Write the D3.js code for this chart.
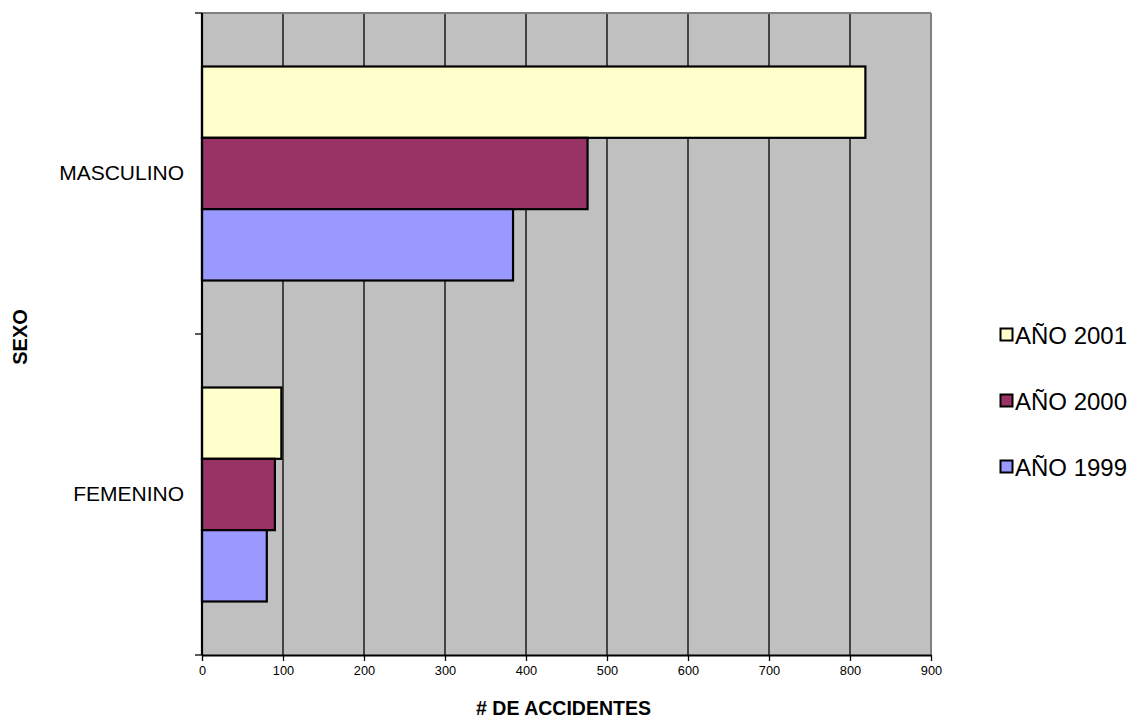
<!DOCTYPE html>
<html><head><meta charset="utf-8">
<script src="https://cdn.jsdelivr.net/npm/d3@7"></script>
<style>body{margin:0;background:#fff}svg{display:block}text{font-family:"Liberation Sans",Arial,sans-serif}</style>
</head><body><svg id="c" width="1137" height="721"></svg>
<script>
const categories = ["MASCULINO", "FEMENINO"];
const seriesNames = ["AÑO 2001", "AÑO 2000", "AÑO 1999"];
const values2001 = [819, 98];
const values2000 = [476, 90];
const values1999 = [384, 80];
const seriesColors = ["#FFFFCC", "#993366", "#9999FF"];
const xTicks = [0,100,200,300,400,500,600,700,800,900];

const seriesVals = [values2001, values2000, values1999];
const svg = d3.select("#c");
const L=202, R=931, T=13, B=655;
const x = d3.scaleLinear().domain([0,900]).range([L,R]);
const y = d3.scaleBand().domain(categories).range([T,B]).paddingInner(0).paddingOuter(0);
const bw = y.bandwidth()/4.5;
const y1 = d3.scaleBand().domain(seriesNames).range([0, bw*3]);

svg.append("rect").attr("x",L).attr("y",T).attr("width",R-L).attr("height",B-T).attr("fill","#C0C0C0");
// grid
svg.append("g").selectAll("line").data(xTicks.filter(d=>d>0&&d<900)).join("line")
  .attr("x1",d=>x(d)).attr("x2",d=>x(d)).attr("y1",T).attr("y2",B).attr("stroke","#000").attr("stroke-width",1.3);
// border top/right
svg.append("line").attr("x1",L).attr("x2",R).attr("y1",T).attr("y2",T).attr("stroke","#808080").attr("stroke-width",2);
svg.append("line").attr("x1",R).attr("x2",R).attr("y1",T).attr("y2",B).attr("stroke","#808080").attr("stroke-width",2);

// bars
categories.forEach((c,ci)=>{
  seriesNames.forEach((s,si)=>{
    svg.append("rect")
      .attr("x",x(0)).attr("y",y(c)+bw*0.75+y1(s))
      .attr("width",x(seriesVals[si][ci])-x(0)).attr("height",y1.bandwidth())
      .attr("fill",seriesColors[si]).attr("stroke","#000").attr("stroke-width",2.2);
  });
});

// x axis
const xa = svg.append("g").attr("transform",`translate(0,${B})`)
  .call(d3.axisBottom(x).tickValues(xTicks).tickSize(6).tickSizeOuter(0).tickPadding(5));
xa.select(".domain").attr("stroke","#000").attr("stroke-width",2);
xa.selectAll("line").attr("stroke","#000").attr("stroke-width",1.3);
xa.selectAll("text").attr("font-size","12.8px").attr("fill","#000").attr("font-family","Liberation Sans, Arial, sans-serif");

// y axis
const ya = svg.append("g").attr("transform",`translate(${L},0)`)
  .call(d3.axisLeft(y).tickSize(0).tickPadding(18));
ya.select(".domain").attr("stroke","#000").attr("stroke-width",2.2).attr("d",`M0,${T}V${B}`);
ya.selectAll("text").attr("font-size","21px").attr("fill","#000").attr("font-family","Liberation Sans, Arial, sans-serif");
svg.append("g").selectAll("line").data([T, T+y.bandwidth(), B]).join("line")
  .attr("x1",L-7).attr("x2",L).attr("y1",d=>d).attr("y2",d=>d).attr("stroke","#000").attr("stroke-width",1.3);

// titles
svg.append("text").attr("x",(L+R)/2-3).attr("y",715).attr("text-anchor","middle")
  .attr("font-size","19.5px").attr("font-weight","bold").text("# DE ACCIDENTES");
svg.append("text").attr("transform","translate(27,337) rotate(-90)").attr("text-anchor","middle")
  .attr("font-size","20px").attr("font-weight","bold").text("SEXO");

// legend
const lg = svg.append("g");
seriesNames.forEach((s,i)=>{
  const cy = 335 + i*66;
  lg.append("rect").attr("x",1000.5).attr("y",cy-6.5).attr("width",12).attr("height",12)
    .attr("fill",seriesColors[i]).attr("stroke","#000").attr("stroke-width",2);
  lg.append("text").attr("x",1015).attr("y",cy+8.5).attr("font-size","24px").text(s);
});
</script></body></html>
